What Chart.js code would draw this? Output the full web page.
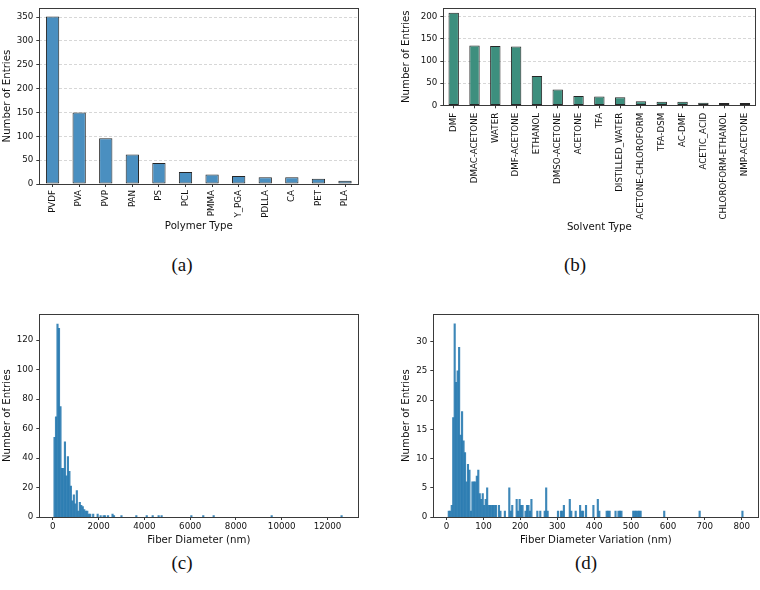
<!DOCTYPE html>
<html>
<head>
<meta charset="utf-8">
<script src="https://cdn.jsdelivr.net/npm/chart.js@4.4.1/dist/chart.umd.min.js"></script>
<style>
  html, body { margin: 0; padding: 0; background: #ffffff; }
  body { width: 760px; height: 590px; position: relative; overflow: hidden; }
  canvas { position: absolute; }
  .cap { position: absolute; font-family: "Liberation Serif", "DejaVu Serif", serif; font-size: 19px; color: #111; transform: translate(-50%, -50%); white-space: nowrap; }
</style>
</head>
<body>
<canvas id="ca" width="362" height="232" style="left:0px;top:0px;"></canvas>
<canvas id="cb" width="365" height="233" style="left:395px;top:0px;"></canvas>
<canvas id="cc" width="362" height="246" style="left:0px;top:300px;"></canvas>
<canvas id="cd" width="365" height="246" style="left:395px;top:300px;"></canvas>
<div class="cap" style="left:182px;top:265px;">(a)</div>
<div class="cap" style="left:575px;top:265px;">(b)</div>
<div class="cap" style="left:182px;top:563px;">(c)</div>
<div class="cap" style="left:586px;top:563px;">(d)</div>
<script>
// ---------------- DATA ----------------
const polymerTypes = ["PVDF", "PVA", "PVP", "PAN", "PS", "PCL", "PMMA", "Y_PGA", "PDLLA", "CA", "PET", "PLA"];
const polymerCounts = [351, 150, 96, 62, 44, 25, 20, 17, 14, 14, 11, 7];
const polymerTicks = [0, 50, 100, 150, 200, 250, 300, 350];

const solventTypes = ["DMF", "DMAC-ACETONE", "WATER", "DMF-ACETONE", "ETHANOL", "DMSO-ACETONE", "ACETONE", "TFA", "DISTILLED_WATER", "ACETONE-CHLOROFORM", "TFA-DSM", "AC-DMF", "ACETIC_ACID", "CHLOROFORM-ETHANOL", "NMP-ACETONE"];
const solventCounts = [209, 135, 134, 133, 66, 36, 21, 20, 18, 9, 8, 8, 6, 5, 5];
const solventTicks = [0, 50, 100, 150, 200];

// Fiber diameter histogram: bin left edges (nm) and counts
const diameterBinWidth = 65;
const diameterBinLeft = [40, 105, 170, 235, 300, 365, 430, 495, 560, 625, 690, 755, 820, 885, 950, 1015, 1080, 1145, 1210, 1275, 1340, 1405, 1470, 1535, 1600,
  1730, 1925, 2055, 2185, 2250, 2380, 2575, 2640, 2965, 3615, 4070, 4330, 4590, 4720, 6020, 6540, 6995, 9530, 12585];
const diameterCounts = [54, 68, 131, 128, 75, 33, 33, 51, 28, 41, 31, 21, 11, 15, 9, 18, 4, 10, 8, 7, 5, 4, 4, 2, 2,
  2, 2, 1, 1, 1, 1, 2, 1, 1, 1, 1, 1, 1, 1, 1, 1, 1, 1, 1];
const diameterXTicks = [0, 2000, 4000, 6000, 8000, 10000, 12000];
const diameterYTicks = [0, 20, 40, 60, 80, 100, 120];

// Fiber diameter variation histogram: bin left edges (nm) and counts
const variationBinWidth = 4;
const variationBinLeft = [4, 8, 12, 16, 20, 24, 28, 32, 36, 40, 44, 48, 52, 56, 60, 64, 68, 72, 76, 80, 84, 88, 92, 96, 100, 104, 108, 112, 116, 120, 124, 128, 132,
  140, 144, 156, 168, 172, 176, 188, 192, 196, 200, 204, 212, 216, 220, 224, 228, 244, 252, 264, 268, 272, 300, 308, 312, 316, 332, 336, 348, 360, 364, 368, 376, 396, 408, 412,
  432, 436, 440, 456, 464, 468, 472, 504, 508, 512, 516, 520, 524, 588, 684, 800];
const variationCounts = [1, 1, 2, 17, 33, 23, 25, 29, 14, 18, 13, 11, 6, 9, 8, 1, 6, 6, 6, 7, 8, 4, 3, 4, 2, 3, 5, 2, 2, 2, 2, 2, 2,
  2, 1, 1, 5, 1, 2, 3, 1, 3, 2, 2, 1, 2, 2, 1, 3, 1, 1, 1, 5, 1, 1, 1, 1, 2, 3, 1, 1, 2, 1, 1, 2, 2, 3, 1,
  1, 1, 1, 1, 1, 1, 1, 1, 1, 1, 1, 1, 1, 1, 1, 1];
const variationXTicks = [0, 100, 200, 300, 400, 500, 600, 700, 800];
const variationYTicks = [0, 5, 10, 15, 20, 25, 30];

// ---------------- STYLE / HELPERS ----------------
const FONT = "DejaVu Sans";
const TXT = "#111111";
const AX = "#3a3a3a";
Chart.defaults.font.family = FONT;
Chart.defaults.color = TXT;

const framePlugin = {
  id: 'frame',
  afterDraw(chart) {
    const a = chart.chartArea, ctx = chart.ctx;
    ctx.save();
    ctx.strokeStyle = AX;
    ctx.lineWidth = 1;
    ctx.strokeRect(Math.round(a.left) + 0.5, Math.round(a.top) + 0.5, Math.round(a.right - a.left), Math.round(a.bottom - a.top));
    ctx.restore();
  }
};

function fixedTicks(values) {
  return function (scale) { scale.ticks = values.map(v => ({ value: v })); };
}

function yAxis(opts) {
  return {
    type: 'linear', position: 'left', min: 0, max: opts.max,
    afterBuildTicks: fixedTicks(opts.ticks),
    afterFit: s => { s.width = opts.width; },
    border: { display: false, dash: opts.dashed ? [3, 2] : [] },
    grid: {
      display: true, drawOnChartArea: !!opts.dashed, color: '#cdcdcd', lineWidth: 0.8,
      drawTicks: true, tickLength: 3, tickColor: AX, tickWidth: 1, tickBorderDash: []
    },
    ticks: { font: { size: 8.7 }, color: TXT, padding: 3, callback: v => String(v) },
    title: { display: true, text: 'Number of Entries', font: { size: 10.2 }, color: TXT, padding: { top: 0, bottom: 0 } }
  };
}

function barChart(id, labels, values, color, yOpts, xTitle, xHeight, pad, labelPad) {
  return new Chart(document.getElementById(id), {
    type: 'bar',
    data: { labels: labels, datasets: [{ data: values, backgroundColor: color, borderColor: '#262626', borderWidth: 1, borderSkipped: false, barPercentage: 0.5, categoryPercentage: 1 }] },
    options: {
      responsive: false, animation: false, devicePixelRatio: 1,
      layout: { padding: pad },
      plugins: { legend: { display: false }, tooltip: { enabled: false } },
      scales: {
        x: {
          type: 'category', offset: true,
          afterFit: s => { s.height = xHeight; },
          border: { display: false },
          grid: { display: true, offset: false, drawOnChartArea: false, drawTicks: true, tickLength: 3, tickColor: AX },
          ticks: { font: { size: 8.7 }, color: TXT, minRotation: 90, maxRotation: 90, autoSkip: false, padding: labelPad },
          title: { display: true, text: xTitle, font: { size: 10.2 }, color: TXT, padding: { top: 0, bottom: 0 } }
        },
        y: yAxis(yOpts)
      }
    },
    plugins: [framePlugin]
  });
}

function histChart(id, binLeft, binWidth, counts, xOpts, yOpts, xTitle, xHeight, pad) {
  const pts = binLeft.map((l, i) => ({ x: l + binWidth / 2, y: counts[i] }));
  return new Chart(document.getElementById(id), {
    type: 'bar',
    data: { datasets: [{ data: pts, backgroundColor: 'rgba(34,118,174,0.88)', borderWidth: 0, barPercentage: 1, categoryPercentage: 1 }] },
    options: {
      responsive: false, animation: false, devicePixelRatio: 1,
      layout: { padding: pad },
      plugins: { legend: { display: false }, tooltip: { enabled: false } },
      scales: {
        x: {
          type: 'linear', offset: false, min: xOpts.min, max: xOpts.max,
          afterBuildTicks: fixedTicks(xOpts.ticks),
          afterFit: s => { s.height = xHeight; },
          border: { display: false },
          grid: { display: true, offset: false, drawOnChartArea: false, drawTicks: true, tickLength: 3, tickColor: AX },
          ticks: { font: { size: 8.7 }, color: TXT, maxRotation: 0, autoSkip: false, padding: 2, callback: v => String(v) },
          title: { display: true, text: xTitle, font: { size: 10.2 }, color: TXT, padding: { top: 0, bottom: 0 } }
        },
        y: yAxis(yOpts)
      }
    },
    plugins: [framePlugin]
  });
}

// (a) Polymer type
barChart('ca', polymerTypes, polymerCounts, '#4a8fc0',
  { max: 368.5, ticks: polymerTicks, width: 38.3, dashed: true },
  'Polymer Type', 48, { left: 1, right: 3.7, top: 2, bottom: 0 }, 3);

// (b) Solvent type
barChart('cb', solventTypes, solventCounts, '#3d8f7e',
  { max: 219.5, ticks: solventTicks, width: 43.3, dashed: true },
  'Solvent Type', 127.7, { left: 5, right: 2.3, top: 2, bottom: 0 }, 4.5);

// (c) Fiber diameter
histChart('cc', diameterBinLeft, diameterBinWidth, diameterCounts,
  { min: -593, max: 13348, ticks: diameterXTicks },
  { max: 137.6, ticks: diameterYTicks, width: 38.3, dashed: false },
  'Fiber Diameter (nm)', 29, { left: 1, right: 3.7, top: 14.3, bottom: 0 });

// (d) Fiber diameter variation
histChart('cd', variationBinLeft, variationBinWidth, variationCounts,
  { min: -36, max: 845, ticks: variationXTicks },
  { max: 34.65, ticks: variationYTicks, width: 33.3, dashed: false },
  'Fiber Diameter Variation (nm)', 29, { left: 5, right: 1.7, top: 14.3, bottom: 0 });
</script>
</body>
</html>
